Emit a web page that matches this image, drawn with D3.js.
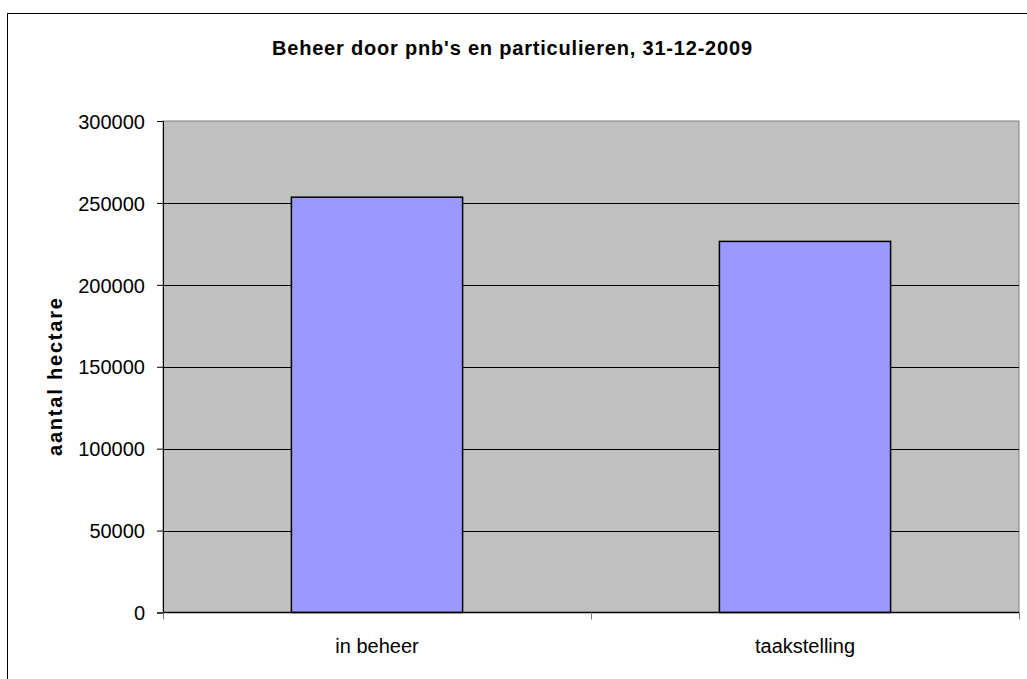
<!DOCTYPE html>
<html>
<head>
<meta charset="utf-8">
<script src="https://cdn.jsdelivr.net/npm/d3@7"></script>
<style>
  body { margin: 0; background: #fff; }
  text { font-family: "Liberation Sans", Arial, sans-serif; fill: #000; }
</style>
</head>
<body>
<div id="chart"></div>
<script>
// chart data
var categories = ["in beheer", "taakstelling"];
var hectares = [253500, 226500];
var yTicks = [0, 50000, 100000, 150000, 200000, 250000, 300000];
var titleText = "Beheer door pnb's en particulieren, 31-12-2009";
var yLabelText = "aantal hectare";

var width = 1027, height = 679;
var margin = { t: 121, r: 8, b: 66.5, l: 163 };

var svg = d3.select('#chart').append('svg')
  .attr('width', width)
  .attr('height', height);

// outer chart frame (runs off the right and bottom edge)
svg.append('rect')
  .attr('x', 7.5).attr('y', 13.5)
  .attr('width', 1040).attr('height', 700)
  .attr('fill', '#fff')
  .attr('stroke', '#000');

var x0 = margin.l, x1 = width - margin.r;
var y0 = height - margin.b, y1 = margin.t;

var xScale = d3.scaleBand().domain(categories).range([x0, x1]).paddingInner(0.6).paddingOuter(0.3);
var xBoundary = d3.scaleLinear().domain([0, categories.length]).range([x0, x1]);
var yScale = d3.scaleLinear().domain([0, 300000]).range([y0, y1]);

// plot background
svg.append('rect')
  .attr('x', x0).attr('y', y1)
  .attr('width', x1 - x0).attr('height', y0 - y1)
  .attr('fill', '#c0c0c0')
  .attr('stroke', '#808080');

// gridlines
svg.append('g').attr('class', 'grid')
  .selectAll('line')
  .data(yTicks.filter(function(d){ return d > 0 && d < 300000; }))
  .enter().append('line')
  .attr('x1', x0).attr('x2', x1)
  .attr('y1', function(d){ return Math.round(yScale(d)) + 0.5; })
  .attr('y2', function(d){ return Math.round(yScale(d)) + 0.5; })
  .attr('stroke', '#000');

// bars
svg.append('g').attr('class', 'bars')
  .selectAll('rect')
  .data(hectares)
  .enter().append('rect')
  .attr('x', function(d, i){ return xScale(categories[i]); })
  .attr('y', function(d){ return yScale(d); })
  .attr('width', xScale.bandwidth())
  .attr('height', function(d){ return y0 - yScale(d); })
  .attr('fill', '#9999ff')
  .attr('stroke', '#000')
  .attr('stroke-width', 1.5);

// y axis
var yAxis = d3.axisLeft(yScale).tickValues(yTicks).tickSize(6).tickPadding(12).tickFormat(d3.format('d'));
var gy = svg.append('g')
  .attr('class', 'y-axis')
  .attr('transform', 'translate(' + x0 + ',0)')
  .call(yAxis);
gy.select('.domain').attr('stroke', '#000');
gy.selectAll('.tick line').attr('stroke', '#000');
gy.selectAll('text')
  .style('font-size', '20px')
  .attr('dy', '0.36em')
  .attr('fill', '#000');

// x axis: baseline, boundary ticks, labels
svg.append('line')
  .attr('x1', x0).attr('x2', x1)
  .attr('y1', y0).attr('y2', y0)
  .attr('stroke', '#000').attr('stroke-width', 1.5);

svg.append('g').attr('class', 'x-ticks')
  .selectAll('line')
  .data(d3.range(categories.length + 1))
  .enter().append('line')
  .attr('x1', function(d){ return Math.round(xBoundary(d)) + 0.5; })
  .attr('x2', function(d){ return Math.round(xBoundary(d)) + 0.5; })
  .attr('y1', y0).attr('y2', y0 + 7)
  .attr('stroke', '#808080');

svg.append('g').attr('class', 'x-labels')
  .selectAll('text')
  .data(categories)
  .enter().append('text')
  .attr('x', function(d){ return xScale(d) + xScale.bandwidth() / 2; })
  .attr('y', y0 + 40)
  .attr('text-anchor', 'middle')
  .style('font-size', '20px')
  .text(function(d){ return d; });

// title
svg.append('text')
  .attr('x', 512).attr('y', 55)
  .attr('text-anchor', 'middle')
  .style('font-size', '20px')
  .style('font-weight', 'bold')
  .attr('textLength', 480)
  .attr('lengthAdjust', 'spacing')
  .text(titleText);

// y label
svg.append('text')
  .attr('transform', 'translate(62,' + 377 + ') rotate(-90)')
  .attr('text-anchor', 'middle')
  .style('font-size', '20px')
  .style('font-weight', 'bold')
  .attr('textLength', 158)
  .attr('lengthAdjust', 'spacing')
  .text(yLabelText);
</script>
</body>
</html>
